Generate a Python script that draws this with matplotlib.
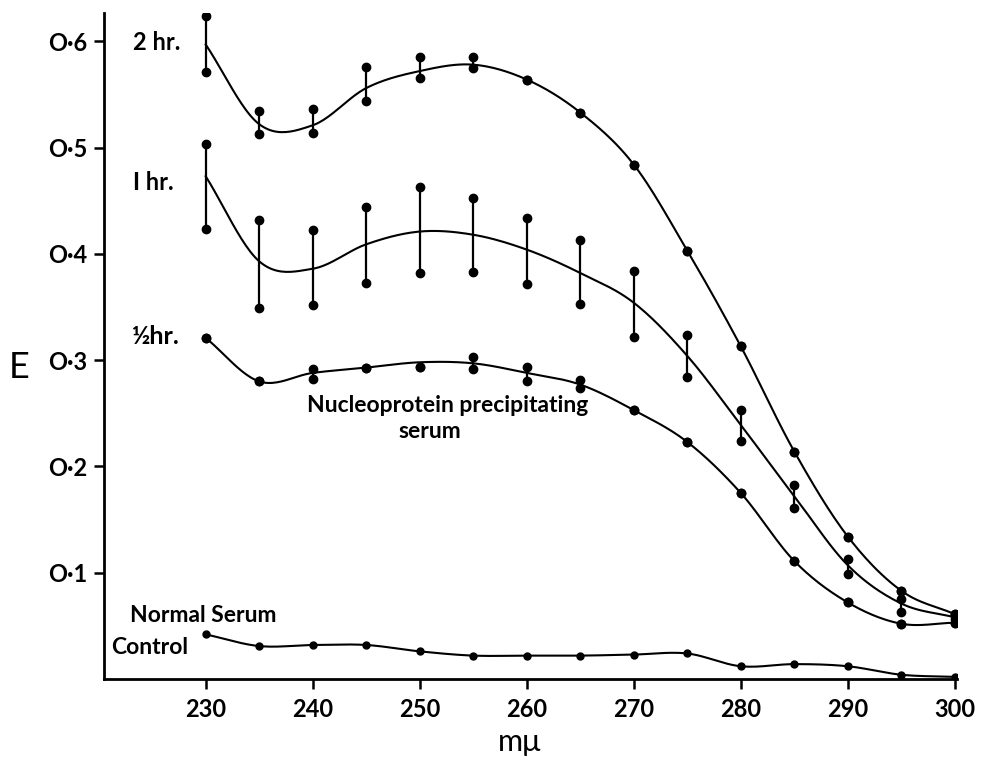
import numpy as np
import matplotlib
matplotlib.use('Agg')
import matplotlib.pyplot as plt

plt.rcParams['font.family'] = ['Lato', 'DejaVu Sans']

wavelength = [230, 235, 240, 245, 250, 255, 260, 265, 270, 275, 280, 285, 290, 295, 300]

# 2 hr: curve and the ends of each spread
hr2_curve = [0.597, 0.522, 0.521, 0.556, 0.572, 0.578, 0.564, 0.533, 0.484, 0.403, 0.313, 0.214, 0.134, 0.083, 0.061]
hr2_low = [0.571, 0.513, 0.514, 0.544, 0.565, 0.575, 0.564, 0.533, 0.484, 0.403, 0.313, 0.214, 0.134, 0.083, 0.061]
hr2_high = [0.624, 0.534, 0.536, 0.576, 0.585, 0.585, 0.564, 0.533, 0.484, 0.403, 0.313, 0.214, 0.134, 0.083, 0.061]

# 1 hr
hr1_curve = [0.473, 0.393, 0.386, 0.409, 0.421, 0.418, 0.404, 0.382, 0.354, 0.304, 0.239, 0.172, 0.107, 0.071, 0.058]
hr1_low = [0.423, 0.349, 0.352, 0.373, 0.382, 0.383, 0.372, 0.353, 0.322, 0.284, 0.224, 0.161, 0.099, 0.063, 0.056]
hr1_high = [0.503, 0.432, 0.422, 0.444, 0.463, 0.453, 0.434, 0.413, 0.384, 0.324, 0.253, 0.183, 0.113, 0.075, 0.060]

# 1/2 hr
hr05_curve = [0.321, 0.280, 0.288, 0.293, 0.298, 0.297, 0.288, 0.277, 0.253, 0.223, 0.175, 0.111, 0.072, 0.052, 0.053]
hr05_low = [0.321, 0.280, 0.282, 0.293, 0.294, 0.292, 0.280, 0.274, 0.253, 0.223, 0.175, 0.111, 0.072, 0.052, 0.053]
hr05_high = [0.321, 0.280, 0.292, 0.293, 0.294, 0.303, 0.294, 0.281, 0.253, 0.223, 0.175, 0.111, 0.072, 0.052, 0.053]

# normal serum control
control = [0.042, 0.031, 0.032, 0.032, 0.026, 0.022, 0.022, 0.022, 0.023, 0.024, 0.012, 0.014, 0.012, 0.004, 0.002]

y_ticks = [0.1, 0.2, 0.3, 0.4, 0.5, 0.6]
y_tick_labels = ['O·1', 'O·2', 'O·3', 'O·4', 'O·5', 'O·6']
x_ticks = [230, 240, 250, 260, 270, 280, 290, 300]


def smooth(x, y, n=24):
    # cubic hermite through the points (catmull-rom tangents)
    x = np.asarray(x, float)
    y = np.asarray(y, float)
    m = np.gradient(y, x)
    xs, ys = [], []
    for i in range(len(x) - 1):
        h = x[i + 1] - x[i]
        t = np.linspace(0, 1, n, endpoint=False)
        h00 = 2 * t**3 - 3 * t**2 + 1
        h10 = t**3 - 2 * t**2 + t
        h01 = -2 * t**3 + 3 * t**2
        h11 = t**3 - t**2
        xs.append(x[i] + t * h)
        ys.append(h00 * y[i] + h10 * h * m[i] + h01 * y[i + 1] + h11 * h * m[i + 1])
    xs.append([x[-1]])
    ys.append([y[-1]])
    return np.concatenate(xs), np.concatenate(ys)


fig = plt.figure(figsize=(9.88, 7.59), dpi=100)
ax = fig.add_axes([0.1053, 0.1054, 0.8633, 0.878])

for curve, low, high in [(hr2_curve, hr2_low, hr2_high),
                         (hr1_curve, hr1_low, hr1_high),
                         (hr05_curve, hr05_low, hr05_high)]:
    sx, sy = smooth(wavelength, curve)
    ax.plot(sx, sy, color='black', lw=1.5)
    ax.vlines(wavelength, low, high, color='black', lw=1.6)
    ax.plot(wavelength, low, 'o', color='black', ms=6)
    ax.plot(wavelength, high, 'o', color='black', ms=6)

sx, sy = smooth(wavelength, control)
ax.plot(sx, sy, color='black', lw=1.5)
ax.plot(wavelength, control, 'o', color='black', ms=5)

ax.set_xlim(220.5, 300.2)
ax.set_ylim(0, 0.627)
ax.spines['top'].set_visible(False)
ax.spines['right'].set_visible(False)
ax.spines['left'].set_linewidth(2)
ax.spines['bottom'].set_linewidth(2)

ax.set_yticks(y_ticks)
ax.set_yticklabels(y_tick_labels, fontsize=17, fontweight='bold')
ax.set_xticks(x_ticks)
ax.set_xticklabels([str(v) for v in x_ticks], fontsize=17, fontweight='bold')
ax.tick_params(axis='y', direction='out', length=7, width=1.8, pad=5)
ax.tick_params(axis='x', direction='out', length=7, width=1.8, pad=7)

ax.text(223.2, 0.599, '2 hr.', fontsize=17, fontweight='bold', va='center', ha='left')
ax.text(223.2, 0.467, 'I hr.', fontsize=17, fontweight='bold', va='center', ha='left')
ax.text(223.0, 0.322, '½hr.', fontsize=18, fontweight='bold', va='center', ha='left')
ax.text(252.6, 0.257, 'Nucleoprotein precipitating', fontsize=16.5, fontweight='bold', va='center', ha='center')
ax.text(250.9, 0.233, 'serum', fontsize=16.5, fontweight='bold', va='center', ha='center')
ax.text(222.9, 0.0594, 'Normal Serum', fontsize=16.5, fontweight='bold', va='center', ha='left')
ax.text(221.2, 0.030, 'Control', fontsize=16.5, fontweight='bold', va='center', ha='left')

fig.text(19 / 988, 1 - 368 / 759, 'E', fontsize=26, ha='center', va='center')
fig.text(520 / 988, 1 - 742 / 759, 'mμ', fontsize=22, ha='center', va='center')

fig.savefig('out.png', dpi=100)
